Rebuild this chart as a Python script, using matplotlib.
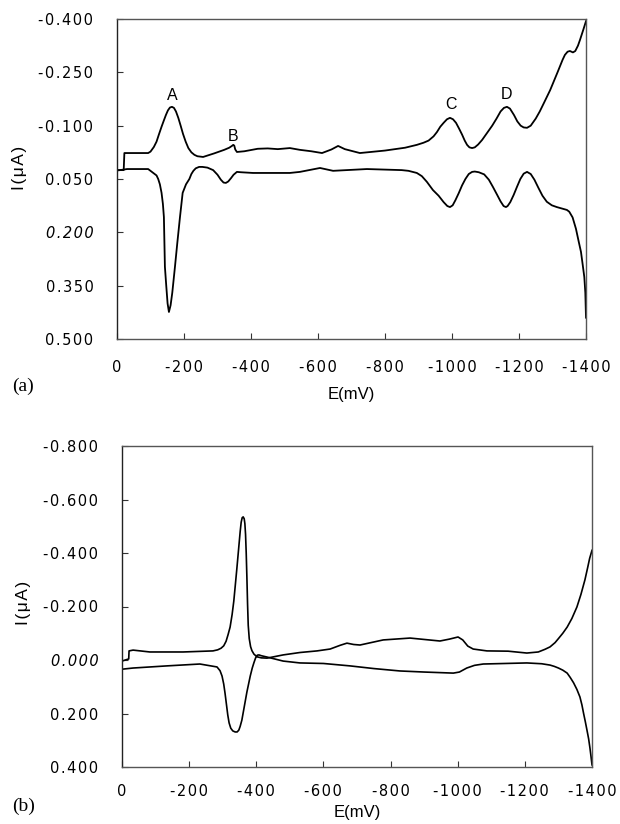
import matplotlib
matplotlib.use("Agg")
import matplotlib.pyplot as plt

# ---------------- Panel (a) data ----------------
E_a_fwd = [0, 0, -20, -22, -60, -93, -100, -110, -118, -125, -133, -140, -146, -152, -158,
           -164, -170, -176, -183, -190, -197, -205, -213, -222, -231, -240, -257, -290,
           -320, -335, -343, -347, -350, -353, -358, -380, -420, -450, -480, -516, -546,
           -580, -612, -640, -660, -680, -725, -800, -860, -895, -915, -930, -945, -955,
           -965, -975, -985, -994, -1003, -1012, -1021, -1030, -1038, -1045, -1052, -1060,
           -1068, -1078, -1090, -1105, -1120, -1133, -1145, -1155, -1164, -1173, -1185,
           -1195, -1205, -1214, -1224, -1235, -1250, -1262, -1275, -1293, -1315, -1330,
           -1337, -1345, -1352, -1361, -1368, -1376, -1382, -1392, -1400]
I_a_fwd = [0.36, 0.025, 0.025, -0.023, -0.023, -0.023, -0.027, -0.040, -0.055, -0.075,
           -0.097, -0.115, -0.130, -0.143, -0.151, -0.153, -0.150, -0.140, -0.122, -0.100,
           -0.077, -0.055, -0.037, -0.025, -0.018, -0.014, -0.012, -0.022, -0.032, -0.038,
           -0.043, -0.046, -0.044, -0.033, -0.026, -0.028, -0.035, -0.036, -0.034, -0.037,
           -0.032, -0.028, -0.023, -0.033, -0.043, -0.034, -0.023, -0.030, -0.038, -0.046,
           -0.052, -0.058, -0.070, -0.082, -0.097, -0.108, -0.118, -0.122, -0.118, -0.108,
           -0.092, -0.075, -0.058, -0.046, -0.039, -0.037, -0.039, -0.047, -0.060, -0.080,
           -0.100, -0.120, -0.140, -0.150, -0.153, -0.148, -0.130, -0.112, -0.100, -0.095,
           -0.094, -0.100, -0.120, -0.140, -0.165, -0.200, -0.250, -0.285, -0.299, -0.308,
           -0.310, -0.306, -0.310, -0.325, -0.341, -0.370, -0.394]

E_a_rev = [-1400, -1398, -1395, -1390, -1385, -1378, -1370, -1360, -1350, -1343, -1328,
           -1313, -1298, -1283, -1270, -1258, -1246, -1235, -1224, -1214, -1204, -1194,
           -1184, -1174, -1166, -1161, -1154, -1145, -1135, -1122, -1110, -1096, -1080,
           -1068, -1060, -1050, -1040, -1030, -1020, -1010, -1002, -994, -986, -975, -960,
           -943, -925, -910, -895, -870, -850, -746, -645, -606, -546, -516, -450, -406,
           -370, -358, -348, -340, -332, -325, -318, -310, -300, -287, -270, -255, -245,
           -235, -228, -222, -216, -206, -196, -188, -180, -173, -165, -160, -155, -151,
           -147, -143, -140, -137, -133, -128, -123, -118, -93, -30, -9, 0]
I_a_rev = [0.44, 0.37, 0.326, 0.29, 0.255, 0.225, 0.19, 0.158, 0.142, 0.137, 0.133,
           0.129, 0.124, 0.114, 0.097, 0.075, 0.052, 0.036, 0.030, 0.035, 0.050, 0.072,
           0.095, 0.115, 0.126, 0.129, 0.126, 0.113, 0.095, 0.072, 0.052, 0.037, 0.031,
           0.029, 0.030, 0.036, 0.050, 0.068, 0.090, 0.110, 0.124, 0.129, 0.126, 0.115,
           0.097, 0.081, 0.058, 0.042, 0.033, 0.027, 0.025, 0.022, 0.027, 0.019, 0.030,
           0.033, 0.033, 0.033, 0.031, 0.030, 0.038, 0.048, 0.057, 0.061, 0.060, 0.052,
           0.038, 0.025, 0.018, 0.016, 0.016, 0.020, 0.027, 0.036, 0.050, 0.065, 0.089,
           0.157, 0.230, 0.297, 0.370, 0.405, 0.424, 0.400, 0.350, 0.297, 0.157, 0.120,
           0.089, 0.065, 0.050, 0.040, 0.022, 0.022, 0.025, 0.026]

peak_labels = ["A", "B", "C", "D"]
peak_E = [-164, -347, -997, -1164]
peak_I = [-0.185, -0.070, -0.160, -0.188]

ya_ticks = [-0.400, -0.250, -0.100, 0.050, 0.200, 0.350, 0.500]
ya_labels = ["-0.400", "-0.250", "-0.100", "0.050", "0.200", "0.350", "0.500"]

# ---------------- Panel (b) data ----------------
E_b_fwd = [0, 0, -20, -21, -33, -83, -182, -271, -285, -295, -303, -310, -316, -322, -328,
           -333, -337, -342, -347, -352, -355, -358, -361, -364, -366, -368, -370, -372,
           -374, -376, -379, -383, -387, -393, -402, -415, -432, -480, -530, -581, -620,
           -650, -670, -690, -709, -778, -858, -947, -975, -1001, -1015, -1030, -1046,
           -1087, -1150, -1206, -1240, -1260, -1275, -1290, -1300, -1313, -1326, -1340,
           -1355, -1367, -1379, -1387, -1393, -1400]
I_b_fwd = [0.16, 0.004, -0.004, -0.034, -0.037, -0.030, -0.030, -0.034, -0.038, -0.044,
           -0.053, -0.070, -0.095, -0.123, -0.170, -0.220, -0.273, -0.340, -0.410, -0.480,
           -0.515, -0.532, -0.535, -0.528, -0.510, -0.470, -0.400, -0.310, -0.210, -0.130,
           -0.080, -0.050, -0.035, -0.022, -0.012, -0.008, -0.007, -0.019, -0.028, -0.034,
           -0.041, -0.055, -0.063, -0.058, -0.056, -0.075, -0.082, -0.071, -0.078, -0.086,
           -0.075, -0.052, -0.041, -0.034, -0.033, -0.026, -0.030, -0.040, -0.049, -0.065,
           -0.080, -0.100, -0.123, -0.155, -0.198, -0.245, -0.300, -0.345, -0.380, -0.410]

E_b_rev = [-1400, -1397, -1394, -1390, -1385, -1380, -1375, -1370, -1364, -1355, -1345,
           -1335, -1326, -1313, -1300, -1288, -1275, -1250, -1206, -1076, -1050, -1027,
           -1005, -987, -900, -828, -750, -679, -600, -530, -480, -432, -415, -408, -403,
           -398, -393, -388, -382, -377, -372, -367, -362, -357, -352, -348, -343, -337,
           -330, -324, -319, -315, -311, -307, -303, -298, -292, -283, -232, -134, -33,
           -3, 0]
I_b_rev = [0.392, 0.36, 0.33, 0.295, 0.262, 0.23, 0.20, 0.168, 0.138, 0.110, 0.085,
           0.065, 0.049, 0.038, 0.030, 0.024, 0.019, 0.014, 0.011, 0.015, 0.020, 0.030,
           0.045, 0.049, 0.045, 0.041, 0.032, 0.022, 0.013, 0.011, 0.004, -0.011, -0.016,
           -0.019, -0.018, -0.008, 0.010, 0.030, 0.060, 0.090, 0.120, 0.155, 0.190, 0.225,
           0.248, 0.262, 0.269, 0.269, 0.265, 0.255, 0.235, 0.205, 0.165, 0.125, 0.090,
           0.060, 0.040, 0.026, 0.015, 0.022, 0.030, 0.034, 0.034]

yb_ticks = [-0.800, -0.600, -0.400, -0.200, 0.000, 0.200, 0.400]
yb_labels = ["-0.800", "-0.600", "-0.400", "-0.200", "0.000", "0.200", "0.400"]

x_ticks = [0, -200, -400, -600, -800, -1000, -1200, -1400]
x_labels = ["0", "-200", "-400", "-600", "-800", "-1000", "-1200", "-1400"]

# ---------------- Figure ----------------
plt.rcParams['font.family'] = ['DejaVu Sans']
fig = plt.figure(figsize=(6.2, 8.24), dpi=100)

W, H = 620.0, 824.0
def box(l, t, r, b):
    return [l / W, 1 - b / H, (r - l) / W, (b - t) / H]

HAIR = "\u200a"
def spaced(s):
    return HAIR.join(list(s))

ax_a = fig.add_axes(box(117, 19, 586, 339))
ax_b = fig.add_axes(box(122, 446, 592, 767))

def style(ax, yt, yl, ylim, italic_label, ylab_xy, xlab_y, xpad):
    ax.set_xlim(0, -1400)
    ax.set_ylim(*ylim)
    ax.set_xticks(x_ticks)
    ax.set_xticklabels([spaced(s) for s in x_labels])
    ax.set_yticks(yt)
    ax.set_yticklabels([spaced(s) for s in yl])
    for lab, raw in zip(ax.get_yticklabels(), yl):
        if raw == italic_label:
            lab.set_style('italic')
    ax.tick_params(direction='in', length=4, width=0.8, color='#333333',
                   labelsize=10.5, top=False, right=False)
    ax.tick_params(axis='y', pad=17)
    ax.tick_params(axis='x', pad=xpad)
    for s in ax.spines.values():
        s.set_linewidth(1.0)
        s.set_color('#555555')
    ax.spines['left'].set_color('#222222')
    ax.set_ylabel(spaced("I(\u03bcA)"), fontsize=12.5, family='Liberation Sans')
    ax.yaxis.set_label_coords(*ylab_xy)
    ax.set_xlabel("E(mV)", fontsize=12, family='Liberation Sans')
    ax.xaxis.set_label_coords(0.5, xlab_y)
    ax.xaxis.label.set_va('center')

# panel a
ax_a.plot(E_a_fwd, I_a_fwd, color='black', lw=1.3, solid_joinstyle='round')
ax_a.plot(E_a_rev, I_a_rev, color='black', lw=1.3, solid_joinstyle='round')
for t, e, i in zip(peak_labels, peak_E, peak_I):
    ax_a.text(e, i, t, fontsize=11.5, ha='center', va='center', family='Liberation Sans')
style(ax_a, ya_ticks, ya_labels, (0.5, -0.4), "0.200",
      ((27 - 117) / 469, (339 - 168) / 320), (339 - 395) / 320, 15)

# panel b
ax_b.plot(E_b_fwd, I_b_fwd, color='black', lw=1.2, solid_joinstyle='round')
ax_b.plot(E_b_rev, I_b_rev, color='black', lw=1.2, solid_joinstyle='round')
style(ax_b, yb_ticks, yb_labels, (0.4, -0.8), "0.000",
      ((31 - 122) / 470, (767 - 603) / 321), (767 - 813) / 321, 12)

fig.text(12 / W, 1 - 386 / H, "(a)", fontsize=14, family='Liberation Serif',
         ha='left', va='center')
fig.text(12 / W, 1 - 806 / H, "(b)", fontsize=14, family='Liberation Serif',
         ha='left', va='center')

fig.savefig("out.png", dpi=100, facecolor='white')
